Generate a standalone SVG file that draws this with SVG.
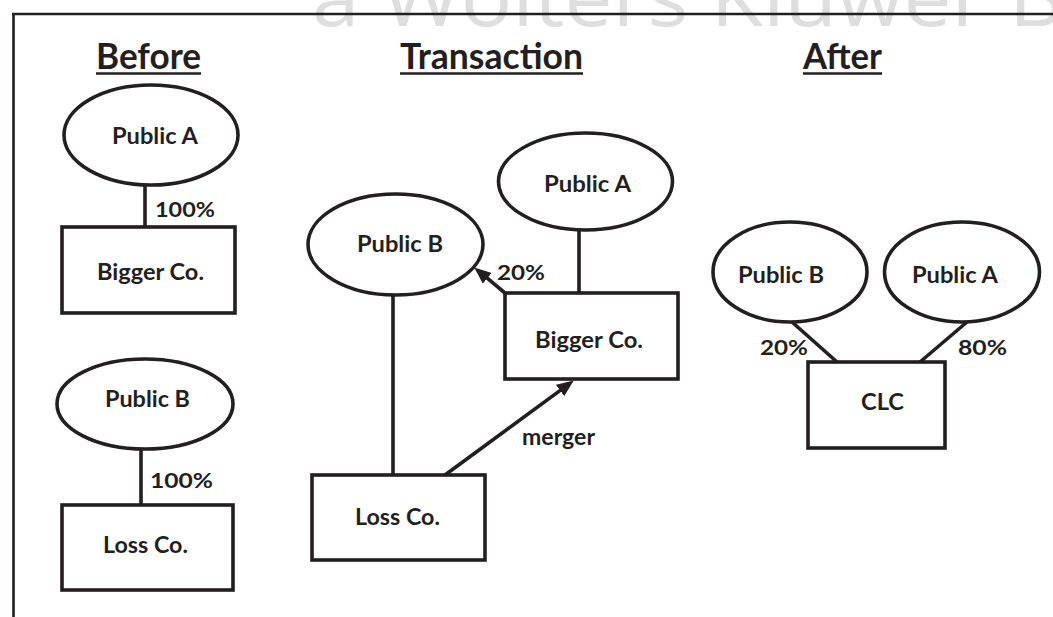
<svg xmlns="http://www.w3.org/2000/svg" width="1053" height="617" viewBox="0 0 1053 617">
<style>
.shape{fill:none;stroke:#231f20;stroke-width:3.6}
.conn{fill:none;stroke:#231f20;stroke-width:3.6}
.t{font-family:Lato,"Open Sans","DejaVu Sans",sans-serif;font-weight:bold;fill:#231f20;font-size:23px}
.p{font-family:Lato,"Open Sans","DejaVu Sans",sans-serif;font-weight:bold;fill:#231f20;font-size:21px}
.h{font-family:Lato,"Open Sans","DejaVu Sans",sans-serif;font-weight:bold;fill:#231f20;font-size:37px}
.wm{font-family:"Open Sans","DejaVu Sans",sans-serif;fill:#dedede;font-size:80px}
</style>
<defs>
<marker id="ah" markerUnits="userSpaceOnUse" markerWidth="17" markerHeight="14" refX="4" refY="7" orient="auto">
<path d="M0,0 L17,7 L0,14 z" fill="#231f20"/>
</marker>
</defs>
<rect width="1053" height="617" fill="#ffffff"/>
<text class="wm" x="312" y="26" textLength="752" lengthAdjust="spacingAndGlyphs">a Wolters Kluwer B</text>
<g id="frame">
<line x1="12" y1="14" x2="1053" y2="14" stroke="#231f20" stroke-width="2.6"/>
<line x1="13.5" y1="13" x2="13.5" y2="617" stroke="#231f20" stroke-width="2.6"/>
</g>
<g id="headings">
<text class="h" x="96" y="69" textLength="105" lengthAdjust="spacingAndGlyphs">Before</text>
<line x1="96" y1="73.5" x2="201" y2="73.5" stroke="#231f20" stroke-width="2.6"/>
<text class="h" x="400" y="69" textLength="183" lengthAdjust="spacingAndGlyphs">Transaction</text>
<line x1="400" y1="73.5" x2="583" y2="73.5" stroke="#231f20" stroke-width="2.6"/>
<text class="h" x="803" y="69" textLength="79" lengthAdjust="spacingAndGlyphs">After</text>
<line x1="803" y1="73.5" x2="882" y2="73.5" stroke="#231f20" stroke-width="2.6"/>
</g>
<g id="connectors">
<line class="conn" x1="145" y1="185" x2="145" y2="227"/>
<line class="conn" x1="141" y1="449" x2="141" y2="505"/>
<line class="conn" x1="579" y1="230" x2="579" y2="293"/>
<line class="conn" x1="505" y1="293" x2="484.2" y2="275.7" marker-end="url(#ah)"/>
<line class="conn" x1="393" y1="295" x2="393" y2="475"/>
<line class="conn" x1="445" y1="475" x2="563.3" y2="388.1" stroke-width="4.4" marker-end="url(#ah)"/>
<line class="conn" x1="792" y1="322" x2="837" y2="362"/>
<line class="conn" x1="967" y1="322" x2="920" y2="362"/>
<text class="p" x="155" y="217" textLength="60" lengthAdjust="spacingAndGlyphs">100%</text>
<text class="p" x="150" y="488" textLength="63" lengthAdjust="spacingAndGlyphs">100%</text>
<text class="p" x="497" y="280" textLength="48" lengthAdjust="spacingAndGlyphs">20%</text>
<text class="t" x="522" y="445" textLength="73" lengthAdjust="spacingAndGlyphs">merger</text>
<text class="p" x="760" y="355" textLength="48" lengthAdjust="spacingAndGlyphs">20%</text>
<text class="p" x="958" y="355" textLength="49" lengthAdjust="spacingAndGlyphs">80%</text>
</g>
<g id="before-public-a">
<ellipse class="shape" cx="151" cy="135" rx="87" ry="50"/>
<text class="t" x="112" y="144" textLength="86" lengthAdjust="spacingAndGlyphs">Public A</text>
</g>
<g id="before-bigger-co">
<rect class="shape" x="62" y="227" width="173" height="86"/>
<text class="t" x="97" y="280" textLength="107" lengthAdjust="spacingAndGlyphs">Bigger Co.</text>
</g>
<g id="before-public-b">
<ellipse class="shape" cx="145" cy="404" rx="88" ry="45"/>
<text class="t" x="105" y="407" textLength="85" lengthAdjust="spacingAndGlyphs">Public B</text>
</g>
<g id="before-loss-co">
<rect class="shape" x="62" y="505" width="171" height="85"/>
<text class="t" x="103" y="553" textLength="85" lengthAdjust="spacingAndGlyphs">Loss Co.</text>
</g>
<g id="trans-public-a">
<ellipse class="shape" cx="585.5" cy="181.5" rx="87" ry="48.5"/>
<text class="t" x="544" y="192" textLength="87" lengthAdjust="spacingAndGlyphs">Public A</text>
</g>
<g id="trans-public-b">
<ellipse class="shape" cx="395.5" cy="244.5" rx="87.5" ry="50.5"/>
<text class="t" x="357" y="252" textLength="86" lengthAdjust="spacingAndGlyphs">Public B</text>
</g>
<g id="trans-bigger-co">
<rect class="shape" x="505" y="293" width="173" height="86"/>
<text class="t" x="535" y="348" textLength="108" lengthAdjust="spacingAndGlyphs">Bigger Co.</text>
</g>
<g id="trans-loss-co">
<rect class="shape" x="312" y="475" width="173" height="85"/>
<text class="t" x="355" y="525" textLength="85" lengthAdjust="spacingAndGlyphs">Loss Co.</text>
</g>
<g id="after-public-b">
<ellipse class="shape" cx="790" cy="272" rx="77" ry="50"/>
<text class="t" x="738" y="283" textLength="86" lengthAdjust="spacingAndGlyphs">Public B</text>
</g>
<g id="after-public-a">
<ellipse class="shape" cx="962" cy="272" rx="77.5" ry="50"/>
<text class="t" x="912" y="283" textLength="86" lengthAdjust="spacingAndGlyphs">Public A</text>
</g>
<g id="after-clc">
<rect class="shape" x="808" y="362" width="137" height="86"/>
<text class="t" x="861" y="410" textLength="43" lengthAdjust="spacingAndGlyphs">CLC</text>
</g>
</svg>
